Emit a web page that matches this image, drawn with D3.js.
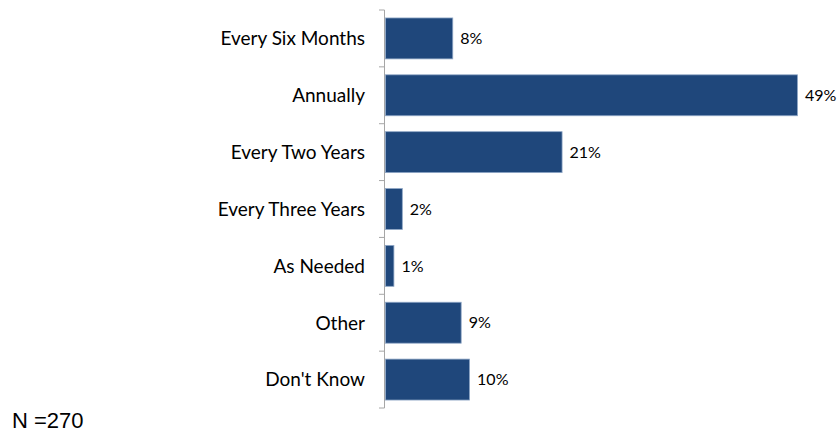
<!DOCTYPE html>
<html>
<head>
<meta charset="utf-8">
<script src="https://cdn.jsdelivr.net/npm/d3@7/dist/d3.min.js"></script>
<style>
  html, body { margin: 0; padding: 0; background: #ffffff; }
  svg { display: block; }
</style>
</head>
<body>
<script>
// Frequency responses, top to bottom
const categories = ["Every Six Months", "Annually", "Every Two Years", "Every Three Years", "As Needed", "Other", "Don't Know"];
const values = [8, 49, 21, 2, 1, 9, 10];
const sampleNote = "N =270";

const width = 838, height = 434;
const axisX = 385, plotTop = 10, plotBottom = 408;

const svg = d3.select("body").append("svg")
  .attr("width", width)
  .attr("height", height);

const y = d3.scaleBand()
  .domain(categories)
  .range([plotTop, plotBottom])
  .paddingInner(0.28)
  .paddingOuter(0.14);

const x = d3.scaleLinear()
  .domain([0, 49])
  .range([axisX, 797]);

// Bars
svg.append("g")
  .selectAll("rect")
  .data(categories)
  .join("rect")
  .attr("x", x(0) + 0.5)
  .attr("y", d => y(d))
  .attr("width", (d, i) => x(values[i]) - x(0))
  .attr("height", y.bandwidth())
  .attr("fill", "#1F477B")
  .attr("stroke", "#8FA7C6")
  .attr("stroke-width", 0.8);

// Value labels
svg.append("g")
  .selectAll("text")
  .data(categories)
  .join("text")
  .attr("x", (d, i) => x(values[i]) + 8)
  .attr("y", d => y(d) + y.bandwidth() / 2)
  .attr("dy", "0.36em")
  .attr("font-family", "Lato, 'Open Sans', sans-serif")
  .attr("font-size", 16)
  .attr("fill", "#000")
  .text((d, i) => values[i] + "%");

// Category axis: vertical line with ticks at band boundaries
const axis = svg.append("g").attr("stroke", "#A6A6A6").attr("stroke-width", 1);
axis.append("line")
  .attr("x1", axisX - 0.5).attr("x2", axisX - 0.5)
  .attr("y1", plotTop).attr("y2", plotBottom);
const step = (plotBottom - plotTop) / categories.length;
axis.selectAll("line.tick")
  .data(d3.range(categories.length + 1))
  .join("line")
  .attr("class", "tick")
  .attr("x1", axisX - 6).attr("x2", axisX - 0.5)
  .attr("y1", i => plotTop + i * step)
  .attr("y2", i => plotTop + i * step);

// Category labels
svg.append("g")
  .selectAll("text")
  .data(categories)
  .join("text")
  .attr("x", 365)
  .attr("y", d => y(d) + y.bandwidth() / 2)
  .attr("dy", "0.36em")
  .attr("text-anchor", "end")
  .attr("font-family", "Lato, 'Open Sans', sans-serif")
  .attr("font-size", 19)
  .attr("fill", "#000")
  .text(d => d);

// Sample size note
svg.append("text")
  .attr("x", 12)
  .attr("y", 428)
  .attr("font-family", "'Liberation Sans', Arial, sans-serif")
  .attr("font-size", 22)
  .attr("fill", "#000")
  .text(sampleNote);
</script>
</body>
</html>
